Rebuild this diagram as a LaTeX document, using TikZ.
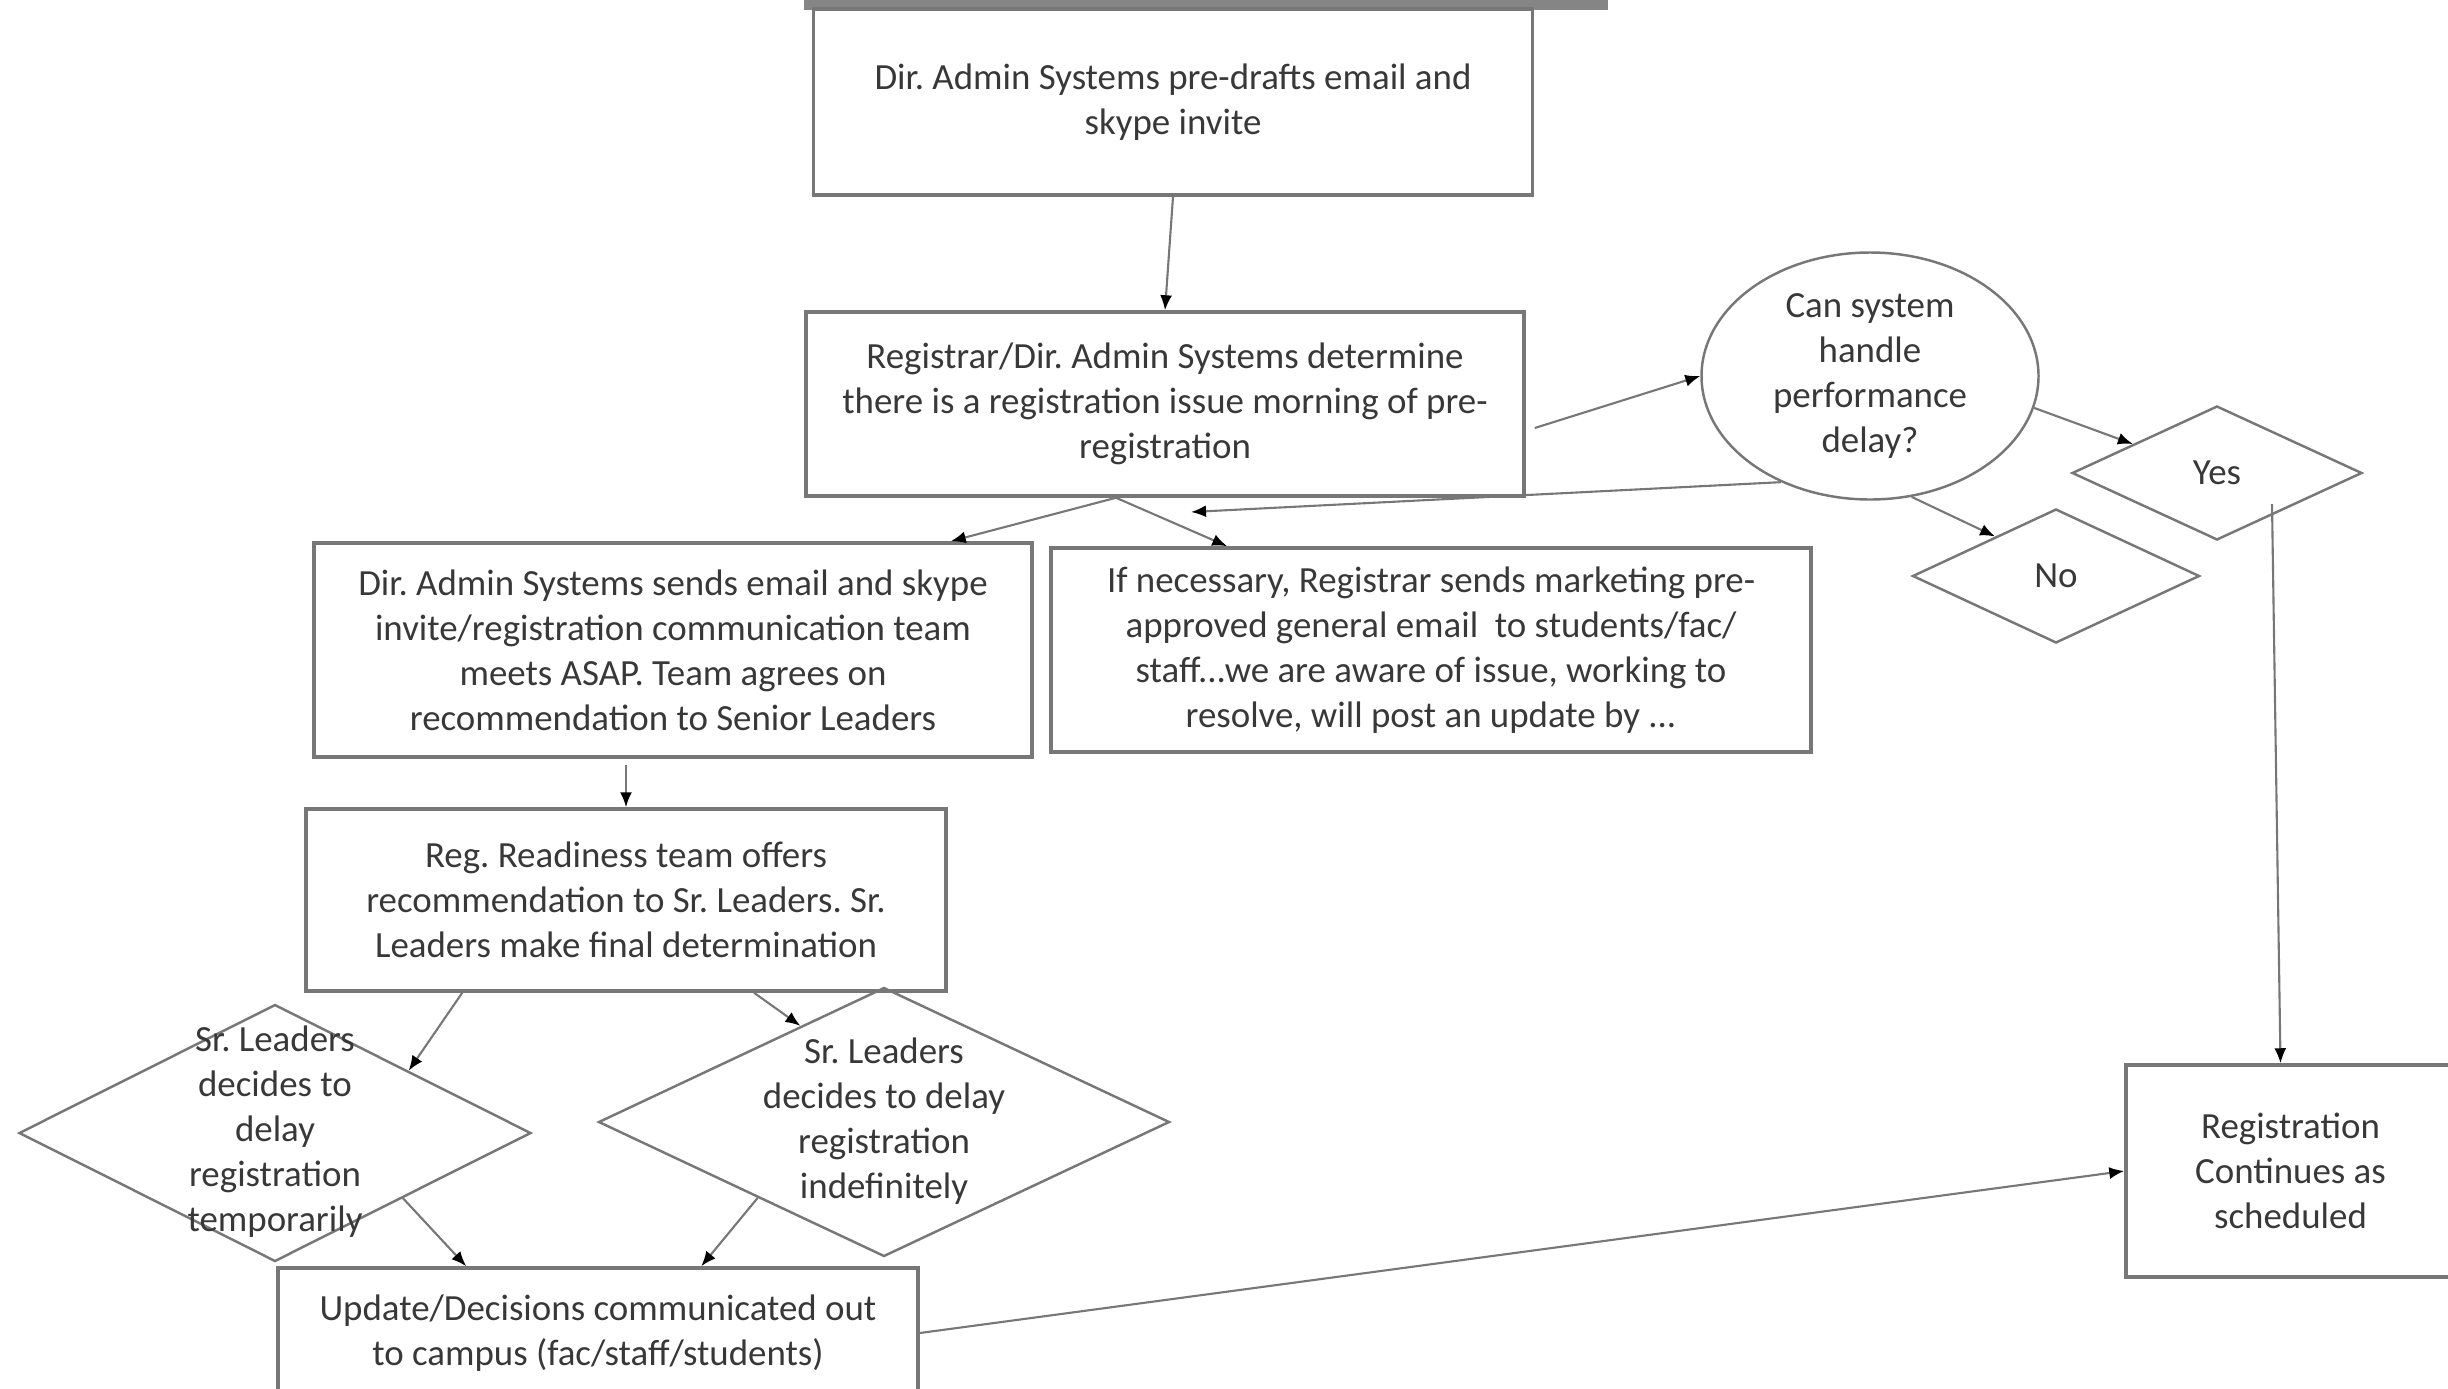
\documentclass[tikz,border=0pt]{standalone}
\usepackage{fontspec}
\setmainfont{Carlito}
\usepackage{tikz}
\usetikzlibrary{calc,arrows.meta,shapes.geometric}
\definecolor{edgegray}{HTML}{777777}
\definecolor{inkgray}{HTML}{383838}
\definecolor{bargray}{HTML}{858585}
\frenchspacing
\newcommand*{\ShapeText}[1]{% #1 = lines of text, kept out of the shape size
\smash{\raisebox{-0.25em}{\makebox[0pt]{\begin{tabular}{@{}c@{}}#1\end{tabular}}}}%
}

\begin{document}
\begin{tikzpicture}[
    stepbox/.style={draw=edgegray, line width=1pt, text=inkgray, align=center, inner sep=0pt},
    askshape/.style={ellipse, draw=edgegray, line width=0.7pt, text=inkgray, inner sep=0pt},
    choice/.style={diamond, draw=edgegray, line width=0.7pt, text=inkgray, inner sep=0pt},
    flow/.style={draw=edgegray, line width=0.6pt, -{Latex[length=1.5mm,width=1.2mm,color=black]}},
    font=\fontsize{10.5}{12.8}\selectfont
]

            \useasboundingbox (0,0) rectangle (24.48,-13.88);
            \fill [bargray] (8.04,0) rectangle (16.08,-0.1);

            \node [stepbox, minimum width=7.19cm, minimum height=1.86cm] (predraft) at (11.73,-1.02)
                {Dir. Admin Systems pre-drafts email and\\skype invite};
            \node [stepbox, minimum width=7.18cm, minimum height=1.84cm] (detect) at (11.65,-4.04)
                {Registrar/Dir. Admin Systems determine\\there is a registration issue morning of pre-\\registration};
            \node [askshape, minimum width=3.37cm, minimum height=2.47cm] (ask) at (18.70,-3.76)
                {\ShapeText{Can system\\handle\\performance\\delay?}};
            \node [choice, minimum width=2.90cm, minimum height=1.34cm] (yes) at (22.17,-4.73) {Yes};
            \node [choice, minimum width=2.87cm, minimum height=1.34cm] (no) at (20.56,-5.76) {No};
            \node [stepbox, minimum width=3.29cm, minimum height=2.12cm] (goon) at (22.905,-11.71)
                {Registration\\Continues as\\scheduled};
            \node [stepbox, minimum width=7.18cm, minimum height=2.14cm] (convene) at (6.73,-6.50)
                {Dir. Admin Systems sends email and skype\\invite/registration communication team\\meets ASAP. Team agrees on\\recommendation to Senior Leaders};
            \node [stepbox, minimum width=7.60cm, minimum height=2.04cm] (notice) at (14.31,-6.50)
                {If necessary, Registrar sends marketing pre-\\approved general email\ \ to students/fac/\\staff...we are aware of issue, working to\\resolve, will post an update by ...};
            \node [stepbox, minimum width=6.40cm, minimum height=1.82cm] (advise) at (6.26,-9.00)
                {Reg. Readiness team offers\\recommendation to Sr. Leaders. Sr.\\Leaders make final determination};
            \node [choice, minimum width=5.12cm, minimum height=2.57cm] (pause) at (2.75,-11.33)
                {\ShapeText{Sr. Leaders\\decides to\\delay\\registration\\temporarily}};
            \node [choice, minimum width=5.71cm, minimum height=2.69cm] (halt) at (8.84,-11.22)
                {\ShapeText{Sr. Leaders\\decides to delay\\registration\\indefinitely}};
            \node [stepbox, minimum width=6.40cm, minimum height=1.30cm] (announce) at (5.98,-13.33)
                {Update/Decisions communicated out\\to campus (fac/staff/students)};

            \coordinate (split) at ($(detect.south)+(-0.49,0)$);
            \coordinate (back) at (11.91,-5.12);

            \draw [flow] (predraft.south) -- (detect.north);
            \draw [flow] ($(detect.east)+(0.09,-0.24)$) -- (ask.west);
            \draw [flow] (ask.230) -- (back);
            \draw [flow] (ask.-11) -- (yes.161);
            \draw [flow] (ask.-71) -- (no.147);
            \draw [flow] ($(yes.center)+(0.55,-0.31)$) -- ([xshift=-0.1cm]goon.north);
            \draw [flow] (split) -- ([xshift=-0.83cm]convene.north east);
            \draw [flow] (split) -- ([xshift=1.78cm]notice.north west);
            \draw [flow] ([yshift=-0.06cm]advise.north |- convene.south) -- (advise.north);
            \draw [flow] ([xshift=1.58cm]advise.south west) -- (pause.25);
            \draw [flow] ([xshift=1.28cm]advise.south) -- (halt.131);
            \draw [flow] (pause.-27) -- ([xshift=1.9cm]announce.north west);
            \draw [flow] (halt.211) -- ([xshift=4.25cm]announce.north west);
            \draw [flow] (announce.east) -- (goon.west);
        \end{tikzpicture}
\end{document}
